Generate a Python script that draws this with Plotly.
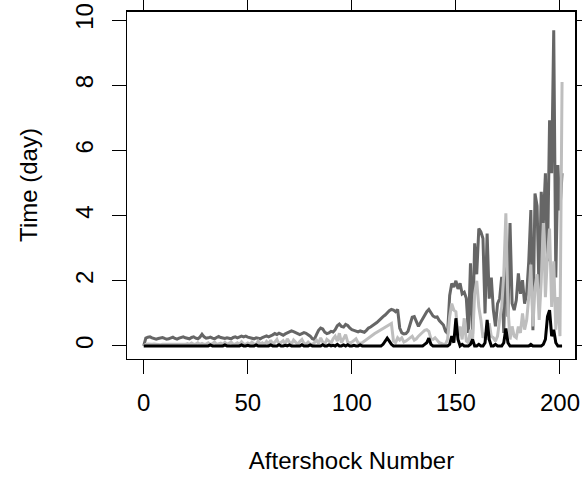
import plotly.graph_objects as go

# aftershock index 0..201
aftershock = list(range(202))

# upper dark grey series (time, days)
upper = [
    0.0, 0.24, 0.27, 0.28, 0.25, 0.22, 0.21, 0.23, 0.25, 0.26,
    0.23, 0.21, 0.22, 0.25, 0.27, 0.23, 0.21, 0.24, 0.26, 0.28,
    0.25, 0.23, 0.22, 0.26, 0.28, 0.24, 0.22, 0.27, 0.36, 0.28,
    0.24, 0.25, 0.27, 0.24, 0.22, 0.26, 0.29, 0.26, 0.24, 0.23,
    0.25, 0.24, 0.22, 0.26, 0.28, 0.25, 0.27, 0.30, 0.28, 0.30,
    0.27, 0.25, 0.24, 0.22, 0.25, 0.23, 0.22, 0.26, 0.29, 0.31,
    0.28, 0.30, 0.34, 0.38, 0.35, 0.39, 0.36, 0.33, 0.37, 0.40,
    0.43, 0.46, 0.44, 0.40, 0.38, 0.35, 0.39, 0.41, 0.39, 0.35,
    0.30, 0.22, 0.20, 0.35, 0.48, 0.55, 0.52, 0.42, 0.38, 0.40,
    0.45, 0.43, 0.50, 0.62, 0.67, 0.60, 0.58, 0.66, 0.63, 0.55,
    0.50, 0.48, 0.45, 0.43, 0.46, 0.43, 0.42, 0.48, 0.55, 0.58,
    0.62, 0.68, 0.72, 0.78, 0.85, 0.90, 0.95, 1.02, 1.08, 1.12,
    1.10, 1.05, 1.12, 0.55, 0.40, 0.37, 0.38, 0.45, 0.70, 0.88,
    0.90, 0.75, 0.60, 0.72, 0.84, 0.95, 1.05, 1.12, 1.02, 0.92,
    0.88, 0.89, 0.78, 0.70, 0.64, 0.45, 0.38, 1.55, 1.92, 1.81,
    2.00, 1.75, 1.92, 1.60, 1.65, 1.46, 0.40, 2.54, 0.35, 3.15,
    2.20, 3.60, 3.50, 3.30, 1.00, 3.45, 1.45, 2.10, 1.10, 0.60,
    1.30, 1.45, 2.12, 0.40, 3.04, 0.90, 3.77, 1.30, 1.10, 1.40,
    2.23, 1.60, 2.02, 1.30, 1.60, 2.60, 4.17, 0.48, 4.68, 4.30,
    1.50, 4.73, 3.77, 5.30, 2.60, 6.93, 5.30, 9.69, 2.10, 5.55,
    4.16, 5.30,
]

# middle light grey series
middle = [
    0.0, 0.05, 0.06, 0.05, 0.05, 0.06, 0.05, 0.05, 0.04, 0.05,
    0.06, 0.05, 0.05, 0.05, 0.06, 0.05, 0.04, 0.05, 0.05, 0.06,
    0.05, 0.07, 0.05, 0.09, 0.05, 0.06, 0.10, 0.05, 0.08, 0.05,
    0.06, 0.10, 0.05, 0.07, 0.12, 0.05, 0.06, 0.09, 0.05, 0.11,
    0.05, 0.08, 0.12, 0.05, 0.06, 0.10, 0.05, 0.13, 0.06, 0.05,
    0.09, 0.05, 0.12, 0.06, 0.05, 0.15, 0.06, 0.10, 0.05, 0.14,
    0.06, 0.18, 0.05, 0.12, 0.20, 0.06, 0.10, 0.16, 0.05, 0.22,
    0.12, 0.06, 0.18, 0.10, 0.05, 0.14, 0.20, 0.08, 0.05, 0.12,
    0.06, 0.05, 0.10, 0.18, 0.08, 0.25, 0.12, 0.06, 0.20, 0.15,
    0.08, 0.22, 0.30, 0.15, 0.39, 0.10, 0.25, 0.35, 0.12, 0.08,
    0.12, 0.18, 0.22, 0.10, 0.08, 0.10, 0.15, 0.20, 0.25, 0.30,
    0.34, 0.38, 0.42, 0.46, 0.50, 0.54, 0.58, 0.62, 0.66, 0.69,
    0.15, 0.10, 0.25, 0.18, 0.25, 0.12, 0.15, 0.20, 0.25, 0.30,
    0.18, 0.22, 0.30, 0.35, 0.42, 0.48, 0.50, 0.45, 0.22, 0.20,
    0.25, 0.18, 0.10, 0.08, 0.05, 0.05, 0.20, 0.90, 1.30, 1.10,
    1.05, 0.30, 0.60, 0.20, 0.85, 0.15, 0.10, 0.50, 0.15, 1.60,
    2.00, 1.20, 0.80, 0.25, 0.40, 0.20, 0.70, 0.30, 0.25, 0.15,
    0.30, 0.80, 1.20, 2.20, 4.07, 1.20, 0.20, 0.60, 0.30, 0.25,
    0.60, 0.40, 1.00, 0.50, 0.80, 1.50, 2.50, 0.60, 1.80, 2.20,
    0.80, 2.00, 3.77, 1.50, 2.80, 3.60, 1.20, 2.60, 0.50, 1.50,
    0.30, 8.10,
]

# lower black series
lower = [
    0, 0, 0, 0, 0, 0, 0, 0, 0, 0,
    0, 0, 0, 0, 0, 0, 0, 0, 0, 0,
    0, 0, 0, 0, 0, 0, 0, 0, 0, 0,
    0, 0, 0.03, 0, 0, 0, 0.02, 0, 0, 0.03,
    0, 0, 0, 0.02, 0, 0, 0, 0.03, 0, 0,
    0.02, 0, 0, 0, 0.03, 0, 0, 0, 0.02, 0,
    0, 0.03, 0, 0, 0, 0.04, 0, 0, 0.02, 0,
    0.03, 0, 0, 0.02, 0, 0, 0.04, 0, 0, 0,
    0.03, 0, 0, 0, 0.02, 0, 0.04, 0, 0, 0.03,
    0, 0.02, 0, 0.05, 0, 0, 0.03, 0, 0.04, 0,
    0, 0.02, 0, 0, 0.03, 0, 0, 0, 0, 0,
    0, 0, 0, 0, 0, 0.05, 0.15, 0.24, 0.15, 0.05,
    0, 0, 0.02, 0, 0, 0, 0, 0, 0, 0,
    0, 0, 0, 0, 0, 0.05, 0.10, 0.24, 0.05, 0,
    0, 0, 0, 0, 0, 0, 0, 0.05, 0.30, 0.10,
    0.85, 0.20, 0, 0.05, 0, 0, 0, 0.05, 0.20, 0,
    0, 0.05, 0, 0, 0.10, 0.80, 0.20, 0, 0, 0.05,
    0, 0, 0, 0.10, 0.54, 0.10, 0, 0, 0, 0,
    0, 0, 0, 0, 0, 0, 0.05, 0, 0, 0,
    0, 0, 0.05, 0.20, 0.90, 1.10, 0.30, 0.50, 0.10, 0,
    0, 0,
]

x_ticks = [0, 50, 100, 150, 200]
y_ticks = [0, 2, 4, 6, 8, 10]

FONT = "Liberation Sans, Arial, Helvetica, sans-serif"
FS = 24

fig = go.Figure()
for vals, col in [(upper, "#666666"), (middle, "#bebebe"), (lower, "#000000")]:
    fig.add_trace(go.Scatter(
        x=aftershock, y=vals, mode="lines",
        line=dict(color=col, width=3),
        showlegend=False, hoverinfo="skip",
    ))

axis_common = dict(
    showgrid=False, zeroline=False, automargin=False,
    showline=True, linecolor="black", linewidth=1, mirror="all",
    ticks="outside", ticklen=14, tickwidth=1, tickcolor="black",
    tickfont=dict(family=FONT, size=FS, color="black"),
)

fig.update_xaxes(
    range=[-8.04, 207.7], tickvals=x_ticks,
    ticklabelstandoff=8,
    title=dict(text="Aftershock Number", font=dict(family=FONT, size=FS, color="black"), standoff=37),
    **axis_common,
)
fig.update_yaxes(
    range=[-0.4, 10.28], tickvals=y_ticks, tickangle=-90,
    ticklabelstandoff=9,
    title=dict(text="Time (day)", font=dict(family=FONT, size=FS, color="black"), standoff=27),
    **axis_common,
)

# top and right edges of the R style box, drawn as separate paper lines
fig.add_shape(type="line", xref="paper", yref="paper", x0=0, y0=1, x1=1, y1=1,
              line=dict(color="black", width=2), layer="above")
fig.add_shape(type="line", xref="paper", yref="paper", x0=1, y0=0, x1=1, y1=1,
              line=dict(color="black", width=2), layer="above")

fig.update_layout(
    template="none",
    width=582, height=477,
    margin=dict(l=127, r=6, t=11, b=118),
    plot_bgcolor="white", paper_bgcolor="white",
    font=dict(family=FONT, size=FS, color="black"),
)

# drop the browser's default 8px body margin so the figure sits at the page corner
fig.write_html("out.html", config={"displayModeBar": False},
               post_script="document.body.style.margin = '0';")
